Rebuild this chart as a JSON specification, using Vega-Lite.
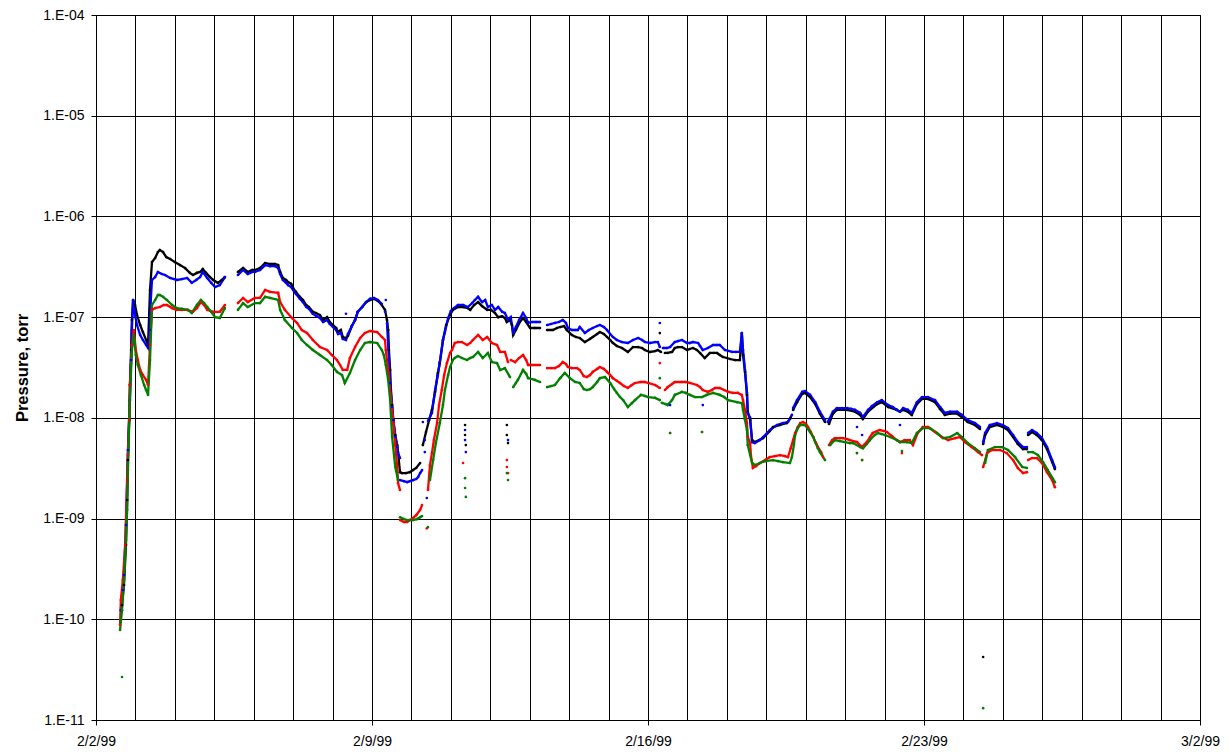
{
"$schema":"https://vega.github.io/schema/vega-lite/v6.json",
"width":1104,"height":705,
"autosize":{"type":"none"},
"padding":{"left":96,"top":15,"right":28,"bottom":35},
"background":"white",
"config":{"view":{"stroke":"#000","strokeWidth":1},"font":"Liberation Sans"},
"data":{"values":[
{"s":"k","g":"k1","d":0.66,"p":1.38e-10},{"s":"k","g":"k1","d":0.71,"p":2.19e-10},{"s":"k","g":"k1","d":0.76,"p":5.46e-10},{"s":"k","g":"k1","d":0.79,"p":1.53e-9},{"s":"k","g":"k1","d":0.81,"p":3.81e-9},{"s":"k","g":"k1","d":0.84,"p":9.52e-9},{"s":"k","g":"k1","d":0.86,"p":2.12e-8},{"s":"k","g":"k1","d":0.89,"p":4.72e-8},{"s":"k","g":"k1","d":0.91,"p":9.37e-8},{"s":"k","g":"k1","d":0.94,"p":1.48e-7},{"s":"k","g":"k1","d":0.99,"p":1.32e-7},{"s":"k","g":"k1","d":1.04,"p":1.05e-7},{"s":"k","g":"k1","d":1.12,"p":8.35e-8},{"s":"k","g":"k1","d":1.19,"p":7.11e-8},{"s":"k","g":"k1","d":1.27,"p":5.93e-8},{"s":"k","g":"k1","d":1.32,"p":5.29e-8},
{"s":"k","g":"k1","d":1.37,"p":1.86e-7},{"s":"k","g":"k1","d":1.42,"p":3.52e-7},{"s":"k","g":"k1","d":1.50,"p":3.87e-7},{"s":"k","g":"k1","d":1.57,"p":4.43e-7},{"s":"k","g":"k1","d":1.62,"p":4.64e-7},{"s":"k","g":"k1","d":1.70,"p":4.43e-7},{"s":"k","g":"k1","d":1.78,"p":3.95e-7},{"s":"k","g":"k1","d":1.88,"p":3.78e-7},{"s":"k","g":"k1","d":2.00,"p":3.52e-7},{"s":"k","g":"k1","d":2.13,"p":3.29e-7},{"s":"k","g":"k1","d":2.26,"p":3.07e-7},{"s":"k","g":"k1","d":2.38,"p":2.75e-7},{"s":"k","g":"k1","d":2.46,"p":2.62e-7},{"s":"k","g":"k1","d":2.56,"p":2.75e-7},{"s":"k","g":"k1","d":2.64,"p":2.81e-7},{"s":"k","g":"k1","d":2.71,"p":3.00e-7},{"s":"k","g":"k1","d":2.79,"p":2.75e-7},{"s":"k","g":"k1","d":2.89,"p":2.50e-7},{"s":"k","g":"k1","d":2.97,"p":2.34e-7},{"s":"k","g":"k1","d":3.09,"p":2.19e-7},{"s":"k","g":"k1","d":3.19,"p":2.34e-7},{"s":"k","g":"k1","d":3.27,"p":2.50e-7},
{"s":"k","g":"k3","d":3.60,"p":2.81e-7},{"s":"k","g":"k3","d":3.73,"p":3.07e-7},{"s":"k","g":"k3","d":3.85,"p":2.81e-7},{"s":"k","g":"k3","d":3.96,"p":2.94e-7},{"s":"k","g":"k3","d":4.03,"p":2.94e-7},{"s":"k","g":"k3","d":4.16,"p":3.07e-7},{"s":"k","g":"k3","d":4.29,"p":3.45e-7},{"s":"k","g":"k3","d":4.41,"p":3.37e-7},{"s":"k","g":"k3","d":4.54,"p":3.37e-7},{"s":"k","g":"k3","d":4.62,"p":3.29e-7},{"s":"k","g":"k3","d":4.67,"p":2.81e-7},{"s":"k","g":"k3","d":4.74,"p":2.45e-7},{"s":"k","g":"k3","d":4.82,"p":2.34e-7},{"s":"k","g":"k3","d":4.87,"p":2.23e-7},{"s":"k","g":"k3","d":4.95,"p":2.14e-7},{"s":"k","g":"k3","d":5.00,"p":1.94e-7},{"s":"k","g":"k3","d":5.07,"p":1.78e-7},{"s":"k","g":"k3","d":5.17,"p":1.59e-7},{"s":"k","g":"k3","d":5.25,"p":1.48e-7},{"s":"k","g":"k3","d":5.33,"p":1.32e-7},{"s":"k","g":"k3","d":5.40,"p":1.26e-7},{"s":"k","g":"k3","d":5.50,"p":1.13e-7},{"s":"k","g":"k3","d":5.58,"p":1.10e-7},{"s":"k","g":"k3","d":5.68,"p":1.05e-7},{"s":"k","g":"k3","d":5.76,"p":9.37e-8},{"s":"k","g":"k3","d":5.86,"p":1.00e-7},{"s":"k","g":"k3","d":5.93,"p":8.95e-8},{"s":"k","g":"k3","d":6.01,"p":8.35e-8},{"s":"k","g":"k3","d":6.09,"p":7.80e-8},{"s":"k","g":"k3","d":6.14,"p":7.11e-8},{"s":"k","g":"k3","d":6.21,"p":7.45e-8},{"s":"k","g":"k3","d":6.26,"p":6.35e-8},{"s":"k","g":"k3","d":6.34,"p":6.21e-8},{"s":"k","g":"k3","d":6.39,"p":6.50e-8},{"s":"k","g":"k3","d":6.49,"p":8.16e-8},{"s":"k","g":"k3","d":6.57,"p":9.37e-8},{"s":"k","g":"k3","d":6.64,"p":1.13e-7},{"s":"k","g":"k3","d":6.75,"p":1.26e-7},{"s":"k","g":"k3","d":6.85,"p":1.41e-7},{"s":"k","g":"k3","d":6.95,"p":1.48e-7},{"s":"k","g":"k3","d":7.05,"p":1.52e-7},{"s":"k","g":"k3","d":7.15,"p":1.45e-7},{"s":"k","g":"k3","d":7.23,"p":1.35e-7},{"s":"k","g":"k3","d":7.33,"p":1.18e-7},{"s":"k","g":"k3","d":7.38,"p":9.37e-8},{"s":"k","g":"k3","d":7.41,"p":7.45e-8},{"s":"k","g":"k3","d":7.43,"p":4.72e-8},{"s":"k","g":"k3","d":7.46,"p":2.99e-8},{"s":"k","g":"k3","d":7.48,"p":1.89e-8},{"s":"k","g":"k3","d":7.51,"p":1.34e-8},{"s":"k","g":"k3","d":7.54,"p":9.52e-9},{"s":"k","g":"k3","d":7.59,"p":6.75e-9},{"s":"k","g":"k3","d":7.64,"p":5.37e-9},{"s":"k","g":"k3","d":7.66,"p":4.57e-9},{"s":"k","g":"k3","d":7.71,"p":2.89e-9},{"s":"k","g":"k3","d":7.76,"p":2.83e-9},{"s":"k","g":"k3","d":7.86,"p":2.83e-9},{"s":"k","g":"k3","d":7.96,"p":2.89e-9},{"s":"k","g":"k3","d":8.04,"p":3.03e-9},{"s":"k","g":"k3","d":8.12,"p":3.18e-9},{"s":"k","g":"k3","d":8.22,"p":3.56e-9},
{"s":"k","g":"k4","d":8.29,"p":5.37e-9},{"s":"k","g":"k4","d":8.37,"p":7.23e-9},{"s":"k","g":"k4","d":8.45,"p":9.52e-9},{"s":"k","g":"k4","d":8.52,"p":1.20e-8},{"s":"k","g":"k4","d":8.60,"p":1.81e-8},{"s":"k","g":"k4","d":8.67,"p":2.79e-8},{"s":"k","g":"k4","d":8.72,"p":3.50e-8},{"s":"k","g":"k4","d":8.80,"p":5.93e-8},{"s":"k","g":"k4","d":8.88,"p":8.35e-8},{"s":"k","g":"k4","d":8.98,"p":1.05e-7},{"s":"k","g":"k4","d":9.05,"p":1.18e-7},{"s":"k","g":"k4","d":9.18,"p":1.26e-7},{"s":"k","g":"k4","d":9.31,"p":1.26e-7},{"s":"k","g":"k4","d":9.43,"p":1.23e-7},{"s":"k","g":"k4","d":9.49,"p":1.18e-7},{"s":"k","g":"k4","d":9.59,"p":1.32e-7},{"s":"k","g":"k4","d":9.69,"p":1.41e-7},{"s":"k","g":"k4","d":9.79,"p":1.29e-7},{"s":"k","g":"k4","d":9.92,"p":1.18e-7},{"s":"k","g":"k4","d":10.02,"p":1.18e-7},{"s":"k","g":"k4","d":10.12,"p":1.10e-7},{"s":"k","g":"k4","d":10.20,"p":1.00e-7},{"s":"k","g":"k4","d":10.30,"p":1.02e-7},{"s":"k","g":"k4","d":10.37,"p":9.81e-8},{"s":"k","g":"k4","d":10.42,"p":8.95e-8},{"s":"k","g":"k4","d":10.50,"p":9.37e-8},{"s":"k","g":"k4","d":10.55,"p":8.35e-8},{"s":"k","g":"k4","d":10.58,"p":6.65e-8},{"s":"k","g":"k4","d":10.65,"p":7.45e-8},{"s":"k","g":"k4","d":10.75,"p":8.95e-8},{"s":"k","g":"k4","d":10.83,"p":9.81e-8},{"s":"k","g":"k4","d":10.91,"p":8.95e-8},{"s":"k","g":"k4","d":11.01,"p":7.80e-8},{"s":"k","g":"k4","d":11.13,"p":7.80e-8},{"s":"k","g":"k4","d":11.26,"p":7.80e-8},
{"s":"k","g":"k5","d":11.44,"p":7.45e-8},{"s":"k","g":"k5","d":11.59,"p":7.45e-8},{"s":"k","g":"k5","d":11.69,"p":7.80e-8},{"s":"k","g":"k5","d":11.77,"p":7.98e-8},{"s":"k","g":"k5","d":11.87,"p":8.16e-8},{"s":"k","g":"k5","d":11.94,"p":7.45e-8},{"s":"k","g":"k5","d":12.07,"p":6.65e-8},{"s":"k","g":"k5","d":12.17,"p":6.35e-8},{"s":"k","g":"k5","d":12.27,"p":6.21e-8},{"s":"k","g":"k5","d":12.40,"p":5.66e-8},{"s":"k","g":"k5","d":12.53,"p":6.08e-8},{"s":"k","g":"k5","d":12.60,"p":6.35e-8},{"s":"k","g":"k5","d":12.71,"p":6.80e-8},{"s":"k","g":"k5","d":12.78,"p":7.11e-8},{"s":"k","g":"k5","d":12.88,"p":6.80e-8},{"s":"k","g":"k5","d":12.96,"p":6.35e-8},{"s":"k","g":"k5","d":13.04,"p":5.93e-8},{"s":"k","g":"k5","d":13.11,"p":5.54e-8},{"s":"k","g":"k5","d":13.21,"p":5.17e-8},{"s":"k","g":"k5","d":13.34,"p":4.94e-8},{"s":"k","g":"k5","d":13.49,"p":4.51e-8},{"s":"k","g":"k5","d":13.62,"p":5.05e-8},{"s":"k","g":"k5","d":13.75,"p":5.05e-8},{"s":"k","g":"k5","d":13.85,"p":4.94e-8},{"s":"k","g":"k5","d":13.92,"p":4.72e-8},{"s":"k","g":"k5","d":14.05,"p":4.51e-8},{"s":"k","g":"k5","d":14.18,"p":4.61e-8},{"s":"k","g":"k5","d":14.25,"p":4.72e-8},{"s":"k","g":"k5","d":14.33,"p":4.51e-8},
{"s":"k","g":"k6","d":14.43,"p":4.41e-8},{"s":"k","g":"k6","d":14.50,"p":4.41e-8},{"s":"k","g":"k6","d":14.61,"p":4.51e-8},{"s":"k","g":"k6","d":14.68,"p":4.94e-8},{"s":"k","g":"k6","d":14.76,"p":5.05e-8},{"s":"k","g":"k6","d":14.86,"p":5.05e-8},{"s":"k","g":"k6","d":14.99,"p":4.72e-8},{"s":"k","g":"k6","d":15.06,"p":4.83e-8},{"s":"k","g":"k6","d":15.14,"p":4.94e-8},{"s":"k","g":"k6","d":15.24,"p":4.72e-8},{"s":"k","g":"k6","d":15.32,"p":4.41e-8},{"s":"k","g":"k6","d":15.44,"p":3.93e-8},{"s":"k","g":"k6","d":15.57,"p":4.41e-8},{"s":"k","g":"k6","d":15.67,"p":4.41e-8},{"s":"k","g":"k6","d":15.75,"p":4.41e-8},{"s":"k","g":"k6","d":15.82,"p":4.21e-8},{"s":"k","g":"k6","d":15.90,"p":4.02e-8},{"s":"k","g":"k6","d":16.00,"p":3.93e-8},{"s":"k","g":"k6","d":16.08,"p":3.84e-8},{"s":"k","g":"k6","d":16.21,"p":3.75e-8},{"s":"k","g":"k6","d":16.33,"p":3.75e-8},{"s":"k","g":"k6","d":16.38,"p":6.95e-8},{"s":"k","g":"k6","d":16.41,"p":4.21e-8},{"s":"k","g":"k6","d":16.46,"p":2.86e-8},{"s":"k","g":"k6","d":16.51,"p":1.69e-8},{"s":"k","g":"k6","d":16.53,"p":1.15e-8},{"s":"k","g":"k6","d":16.59,"p":9.52e-9},{"s":"k","g":"k6","d":16.64,"p":6.02e-9},{"s":"k","g":"k6","d":16.71,"p":5.75e-9},{"s":"k","g":"k6","d":16.92,"p":6.30e-9},{"s":"k","g":"k6","d":17.09,"p":7.40e-9},{"s":"k","g":"k6","d":17.17,"p":8.11e-9},{"s":"k","g":"k6","d":17.35,"p":8.49e-9},{"s":"k","g":"k6","d":17.52,"p":8.87e-9},{"s":"k","g":"k6","d":17.62,"p":9.98e-9},
{"s":"k","g":"k7","d":17.68,"p":1.20e-8},{"s":"k","g":"k7","d":17.78,"p":1.43e-8},{"s":"k","g":"k7","d":17.91,"p":1.73e-8},{"s":"k","g":"k7","d":17.98,"p":1.77e-8},{"s":"k","g":"k7","d":18.11,"p":1.61e-8},{"s":"k","g":"k7","d":18.24,"p":1.37e-8},{"s":"k","g":"k7","d":18.36,"p":1.10e-8},{"s":"k","g":"k7","d":18.49,"p":9.09e-9},
{"s":"k","g":"k8","d":18.59,"p":8.69e-9},{"s":"k","g":"k8","d":18.69,"p":1.10e-8},{"s":"k","g":"k8","d":18.79,"p":1.20e-8},{"s":"k","g":"k8","d":19.05,"p":1.20e-8},{"s":"k","g":"k8","d":19.25,"p":1.15e-8},{"s":"k","g":"k8","d":19.38,"p":1.07e-8},{"s":"k","g":"k8","d":19.45,"p":9.75e-9},{"s":"k","g":"k8","d":19.58,"p":1.15e-8},{"s":"k","g":"k8","d":19.81,"p":1.37e-8},{"s":"k","g":"k8","d":19.93,"p":1.43e-8},{"s":"k","g":"k8","d":20.09,"p":1.28e-8},{"s":"k","g":"k8","d":20.31,"p":1.20e-8},{"s":"k","g":"k8","d":20.39,"p":1.15e-8},{"s":"k","g":"k8","d":20.47,"p":1.20e-8},{"s":"k","g":"k8","d":20.59,"p":1.15e-8},{"s":"k","g":"k8","d":20.69,"p":1.07e-8},{"s":"k","g":"k8","d":20.82,"p":1.37e-8},{"s":"k","g":"k8","d":20.95,"p":1.54e-8},{"s":"k","g":"k8","d":21.10,"p":1.54e-8},{"s":"k","g":"k8","d":21.28,"p":1.43e-8},{"s":"k","g":"k8","d":21.41,"p":1.22e-8},{"s":"k","g":"k8","d":21.53,"p":1.07e-8},{"s":"k","g":"k8","d":21.66,"p":1.10e-8},{"s":"k","g":"k8","d":21.84,"p":1.10e-8},{"s":"k","g":"k8","d":21.96,"p":1.02e-8},{"s":"k","g":"k8","d":22.11,"p":9.09e-9},{"s":"k","g":"k8","d":22.29,"p":8.49e-9},{"s":"k","g":"k8","d":22.42,"p":7.75e-9},
{"s":"k","g":"k9","d":22.50,"p":5.50e-9},{"s":"k","g":"k9","d":22.55,"p":6.75e-9},{"s":"k","g":"k9","d":22.67,"p":8.11e-9},{"s":"k","g":"k9","d":22.85,"p":8.49e-9},{"s":"k","g":"k9","d":23.00,"p":8.11e-9},{"s":"k","g":"k9","d":23.13,"p":7.57e-9},{"s":"k","g":"k9","d":23.26,"p":6.45e-9},{"s":"k","g":"k9","d":23.38,"p":5.50e-9},{"s":"k","g":"k9","d":23.51,"p":4.90e-9},{"s":"k","g":"k9","d":23.61,"p":4.90e-9},
{"s":"k","g":"k10","d":23.64,"p":6.75e-9},{"s":"k","g":"k10","d":23.74,"p":7.23e-9},{"s":"k","g":"k10","d":23.86,"p":6.75e-9},{"s":"k","g":"k10","d":23.99,"p":6.02e-9},{"s":"k","g":"k10","d":24.12,"p":4.90e-9},{"s":"k","g":"k10","d":24.25,"p":3.64e-9},{"s":"k","g":"k10","d":24.32,"p":3.10e-9},
{"s":"k","g":"x","d":9.36,"p":8.49e-9},{"s":"k","g":"x","d":9.36,"p":6.75e-9},{"s":"k","g":"x","d":9.38,"p":5.37e-9},{"s":"k","g":"x","d":10.42,"p":8.49e-9},{"s":"k","g":"x","d":10.42,"p":6.75e-9},{"s":"k","g":"x","d":10.45,"p":5.62e-9},{"s":"k","g":"x","d":14.30,"p":6.95e-8},{"s":"k","g":"x","d":22.50,"p":4.22e-11},
{"s":"b","g":"b1","d":0.63,"p":1.23e-10},{"s":"b","g":"b1","d":0.68,"p":1.95e-10},{"s":"b","g":"b1","d":0.71,"p":2.75e-10},{"s":"b","g":"b1","d":0.76,"p":8.63e-10},{"s":"b","g":"b1","d":0.79,"p":2.41e-9},{"s":"b","g":"b1","d":0.81,"p":4.79e-9},{"s":"b","g":"b1","d":0.86,"p":1.50e-8},{"s":"b","g":"b1","d":0.89,"p":3.75e-8},{"s":"b","g":"b1","d":0.91,"p":7.45e-8},{"s":"b","g":"b1","d":0.94,"p":1.48e-7},{"s":"b","g":"b1","d":0.99,"p":1.05e-7},{"s":"b","g":"b1","d":1.04,"p":8.35e-8},{"s":"b","g":"b1","d":1.12,"p":6.65e-8},{"s":"b","g":"b1","d":1.19,"p":5.93e-8},{"s":"b","g":"b1","d":1.27,"p":5.29e-8},{"s":"b","g":"b1","d":1.32,"p":4.94e-8},{"s":"b","g":"b1","d":1.37,"p":7.45e-8},{"s":"b","g":"b1","d":1.39,"p":1.48e-7},{"s":"b","g":"b1","d":1.42,"p":2.34e-7},{"s":"b","g":"b1","d":1.50,"p":2.50e-7},{"s":"b","g":"b1","d":1.57,"p":2.81e-7},{"s":"b","g":"b1","d":1.67,"p":2.68e-7},{"s":"b","g":"b1","d":1.75,"p":2.62e-7},{"s":"b","g":"b1","d":1.88,"p":2.45e-7},{"s":"b","g":"b1","d":2.05,"p":2.34e-7},{"s":"b","g":"b1","d":2.18,"p":2.39e-7},{"s":"b","g":"b1","d":2.31,"p":2.45e-7},{"s":"b","g":"b1","d":2.43,"p":2.19e-7},{"s":"b","g":"b1","d":2.54,"p":2.34e-7},{"s":"b","g":"b1","d":2.64,"p":2.50e-7},{"s":"b","g":"b1","d":2.71,"p":2.81e-7},{"s":"b","g":"b1","d":2.82,"p":2.45e-7},{"s":"b","g":"b1","d":2.92,"p":2.19e-7},{"s":"b","g":"b1","d":3.02,"p":1.99e-7},{"s":"b","g":"b1","d":3.14,"p":2.08e-7},{"s":"b","g":"b1","d":3.27,"p":2.50e-7},
{"s":"b","g":"b2","d":3.60,"p":2.62e-7},{"s":"b","g":"b2","d":3.73,"p":2.94e-7},{"s":"b","g":"b2","d":3.85,"p":2.68e-7},{"s":"b","g":"b2","d":3.96,"p":2.81e-7},{"s":"b","g":"b2","d":4.03,"p":2.81e-7},{"s":"b","g":"b2","d":4.16,"p":2.94e-7},{"s":"b","g":"b2","d":4.29,"p":3.29e-7},{"s":"b","g":"b2","d":4.41,"p":3.21e-7},{"s":"b","g":"b2","d":4.54,"p":3.21e-7},{"s":"b","g":"b2","d":4.62,"p":3.07e-7},{"s":"b","g":"b2","d":4.67,"p":2.68e-7},{"s":"b","g":"b2","d":4.74,"p":2.34e-7},{"s":"b","g":"b2","d":4.82,"p":2.19e-7},{"s":"b","g":"b2","d":4.87,"p":2.08e-7},{"s":"b","g":"b2","d":4.95,"p":1.99e-7},{"s":"b","g":"b2","d":5.00,"p":1.86e-7},{"s":"b","g":"b2","d":5.07,"p":1.70e-7},{"s":"b","g":"b2","d":5.17,"p":1.52e-7},{"s":"b","g":"b2","d":5.25,"p":1.41e-7},{"s":"b","g":"b2","d":5.33,"p":1.26e-7},{"s":"b","g":"b2","d":5.40,"p":1.21e-7},{"s":"b","g":"b2","d":5.50,"p":1.08e-7},{"s":"b","g":"b2","d":5.58,"p":1.03e-7},{"s":"b","g":"b2","d":5.68,"p":9.81e-8},{"s":"b","g":"b2","d":5.76,"p":8.95e-8},{"s":"b","g":"b2","d":5.86,"p":9.37e-8},{"s":"b","g":"b2","d":5.93,"p":8.55e-8},{"s":"b","g":"b2","d":6.01,"p":7.98e-8},{"s":"b","g":"b2","d":6.09,"p":7.45e-8},{"s":"b","g":"b2","d":6.14,"p":6.80e-8},{"s":"b","g":"b2","d":6.21,"p":6.96e-8},{"s":"b","g":"b2","d":6.26,"p":6.08e-8},{"s":"b","g":"b2","d":6.34,"p":5.93e-8},{"s":"b","g":"b2","d":6.39,"p":6.80e-8},{"s":"b","g":"b2","d":6.49,"p":8.16e-8},{"s":"b","g":"b2","d":6.57,"p":9.37e-8},{"s":"b","g":"b2","d":6.64,"p":1.13e-7},{"s":"b","g":"b2","d":6.75,"p":1.26e-7},{"s":"b","g":"b2","d":6.85,"p":1.41e-7},{"s":"b","g":"b2","d":6.95,"p":1.52e-7},{"s":"b","g":"b2","d":7.05,"p":1.55e-7},{"s":"b","g":"b2","d":7.15,"p":1.48e-7},{"s":"b","g":"b2","d":7.25,"p":1.35e-7},
{"s":"b","g":"b3","d":7.38,"p":8.75e-8},{"s":"b","g":"b3","d":7.43,"p":3.75e-8},{"s":"b","g":"b3","d":7.46,"p":2.22e-8},{"s":"b","g":"b3","d":7.51,"p":1.28e-8},{"s":"b","g":"b3","d":7.54,"p":9.52e-9},{"s":"b","g":"b3","d":7.59,"p":6.45e-9},{"s":"b","g":"b3","d":7.64,"p":5.13e-9},{"s":"b","g":"b3","d":7.66,"p":4.47e-9},{"s":"b","g":"b3","d":7.71,"p":3.99e-9},
{"s":"b","g":"b4","d":7.71,"p":2.41e-9},{"s":"b","g":"b4","d":7.81,"p":2.35e-9},{"s":"b","g":"b4","d":7.89,"p":2.30e-9},{"s":"b","g":"b4","d":7.96,"p":2.35e-9},{"s":"b","g":"b4","d":8.04,"p":2.41e-9},{"s":"b","g":"b4","d":8.12,"p":2.47e-9},{"s":"b","g":"b4","d":8.17,"p":2.58e-9},{"s":"b","g":"b4","d":8.22,"p":2.83e-9},{"s":"b","g":"b4","d":8.27,"p":3.03e-9},
{"s":"b","g":"b5","d":8.42,"p":9.30e-9},{"s":"b","g":"b5","d":8.52,"p":1.12e-8},{"s":"b","g":"b5","d":8.60,"p":1.89e-8},{"s":"b","g":"b5","d":8.67,"p":2.66e-8},{"s":"b","g":"b5","d":8.72,"p":3.58e-8},{"s":"b","g":"b5","d":8.80,"p":5.93e-8},{"s":"b","g":"b5","d":8.85,"p":7.11e-8},{"s":"b","g":"b5","d":8.93,"p":9.81e-8},{"s":"b","g":"b5","d":9.00,"p":1.15e-7},{"s":"b","g":"b5","d":9.08,"p":1.23e-7},{"s":"b","g":"b5","d":9.18,"p":1.32e-7},{"s":"b","g":"b5","d":9.31,"p":1.32e-7},{"s":"b","g":"b5","d":9.43,"p":1.26e-7},{"s":"b","g":"b5","d":9.54,"p":1.38e-7},{"s":"b","g":"b5","d":9.61,"p":1.48e-7},{"s":"b","g":"b5","d":9.69,"p":1.59e-7},{"s":"b","g":"b5","d":9.79,"p":1.41e-7},{"s":"b","g":"b5","d":9.87,"p":1.48e-7},{"s":"b","g":"b5","d":9.94,"p":1.26e-7},{"s":"b","g":"b5","d":10.04,"p":1.32e-7},{"s":"b","g":"b5","d":10.12,"p":1.18e-7},{"s":"b","g":"b5","d":10.20,"p":1.26e-7},{"s":"b","g":"b5","d":10.30,"p":1.13e-7},{"s":"b","g":"b5","d":10.37,"p":1.10e-7},{"s":"b","g":"b5","d":10.45,"p":9.37e-8},{"s":"b","g":"b5","d":10.52,"p":1.00e-7},{"s":"b","g":"b5","d":10.58,"p":6.96e-8},{"s":"b","g":"b5","d":10.65,"p":7.98e-8},{"s":"b","g":"b5","d":10.73,"p":9.37e-8},{"s":"b","g":"b5","d":10.83,"p":1.10e-7},{"s":"b","g":"b5","d":10.91,"p":9.81e-8},{"s":"b","g":"b5","d":10.96,"p":8.75e-8},{"s":"b","g":"b5","d":11.06,"p":8.95e-8},{"s":"b","g":"b5","d":11.16,"p":8.95e-8},{"s":"b","g":"b5","d":11.26,"p":8.95e-8},
{"s":"b","g":"b6","d":11.44,"p":8.35e-8},{"s":"b","g":"b6","d":11.54,"p":8.55e-8},{"s":"b","g":"b6","d":11.64,"p":8.75e-8},{"s":"b","g":"b6","d":11.74,"p":8.95e-8},{"s":"b","g":"b6","d":11.84,"p":9.37e-8},{"s":"b","g":"b6","d":11.92,"p":8.75e-8},{"s":"b","g":"b6","d":11.97,"p":7.80e-8},{"s":"b","g":"b6","d":12.07,"p":7.45e-8},{"s":"b","g":"b6","d":12.15,"p":7.45e-8},{"s":"b","g":"b6","d":12.22,"p":7.45e-8},{"s":"b","g":"b6","d":12.27,"p":7.98e-8},{"s":"b","g":"b6","d":12.40,"p":6.96e-8},{"s":"b","g":"b6","d":12.50,"p":7.45e-8},{"s":"b","g":"b6","d":12.60,"p":7.80e-8},{"s":"b","g":"b6","d":12.71,"p":8.16e-8},{"s":"b","g":"b6","d":12.78,"p":8.35e-8},{"s":"b","g":"b6","d":12.88,"p":7.98e-8},{"s":"b","g":"b6","d":12.96,"p":7.45e-8},{"s":"b","g":"b6","d":13.04,"p":6.80e-8},{"s":"b","g":"b6","d":13.11,"p":6.35e-8},{"s":"b","g":"b6","d":13.21,"p":5.93e-8},{"s":"b","g":"b6","d":13.34,"p":5.66e-8},{"s":"b","g":"b6","d":13.49,"p":5.54e-8},{"s":"b","g":"b6","d":13.62,"p":5.93e-8},{"s":"b","g":"b6","d":13.75,"p":6.21e-8},{"s":"b","g":"b6","d":13.85,"p":5.93e-8},{"s":"b","g":"b6","d":13.92,"p":5.66e-8},{"s":"b","g":"b6","d":14.05,"p":5.54e-8},{"s":"b","g":"b6","d":14.18,"p":5.66e-8},{"s":"b","g":"b6","d":14.25,"p":5.66e-8},{"s":"b","g":"b6","d":14.30,"p":5.05e-8},
{"s":"b","g":"b7","d":14.38,"p":4.94e-8},{"s":"b","g":"b7","d":14.48,"p":4.94e-8},{"s":"b","g":"b7","d":14.56,"p":5.05e-8},{"s":"b","g":"b7","d":14.68,"p":5.66e-8},{"s":"b","g":"b7","d":14.76,"p":5.79e-8},{"s":"b","g":"b7","d":14.86,"p":5.93e-8},{"s":"b","g":"b7","d":14.99,"p":5.54e-8},{"s":"b","g":"b7","d":15.06,"p":5.54e-8},{"s":"b","g":"b7","d":15.14,"p":5.66e-8},{"s":"b","g":"b7","d":15.27,"p":5.54e-8},{"s":"b","g":"b7","d":15.32,"p":5.17e-8},{"s":"b","g":"b7","d":15.39,"p":4.72e-8},{"s":"b","g":"b7","d":15.52,"p":4.94e-8},{"s":"b","g":"b7","d":15.65,"p":5.29e-8},{"s":"b","g":"b7","d":15.75,"p":5.29e-8},{"s":"b","g":"b7","d":15.82,"p":5.29e-8},{"s":"b","g":"b7","d":15.95,"p":4.72e-8},{"s":"b","g":"b7","d":16.13,"p":4.51e-8},{"s":"b","g":"b7","d":16.23,"p":4.51e-8},{"s":"b","g":"b7","d":16.33,"p":4.51e-8},{"s":"b","g":"b7","d":16.38,"p":6.96e-8},{"s":"b","g":"b7","d":16.41,"p":4.72e-8},{"s":"b","g":"b7","d":16.46,"p":2.99e-8},{"s":"b","g":"b7","d":16.51,"p":1.77e-8},{"s":"b","g":"b7","d":16.53,"p":1.12e-8},{"s":"b","g":"b7","d":16.59,"p":1.00e-8},{"s":"b","g":"b7","d":16.64,"p":5.75e-9},{"s":"b","g":"b7","d":16.71,"p":5.62e-9},{"s":"b","g":"b7","d":16.84,"p":6.02e-9},{"s":"b","g":"b7","d":16.92,"p":6.45e-9},{"s":"b","g":"b7","d":17.02,"p":7.07e-9},{"s":"b","g":"b7","d":17.09,"p":7.57e-9},{"s":"b","g":"b7","d":17.27,"p":8.49e-9},{"s":"b","g":"b7","d":17.42,"p":8.87e-9},{"s":"b","g":"b7","d":17.55,"p":9.09e-9},{"s":"b","g":"b7","d":17.65,"p":1.07e-8},
{"s":"b","g":"b8","d":17.68,"p":1.25e-8},{"s":"b","g":"b8","d":17.78,"p":1.50e-8},{"s":"b","g":"b8","d":17.91,"p":1.81e-8},{"s":"b","g":"b8","d":17.98,"p":1.85e-8},{"s":"b","g":"b8","d":18.11,"p":1.69e-8},{"s":"b","g":"b8","d":18.24,"p":1.43e-8},{"s":"b","g":"b8","d":18.36,"p":1.15e-8},{"s":"b","g":"b8","d":18.49,"p":9.52e-9},
{"s":"b","g":"b9","d":18.56,"p":9.09e-9},{"s":"b","g":"b9","d":18.69,"p":1.15e-8},{"s":"b","g":"b9","d":18.79,"p":1.25e-8},{"s":"b","g":"b9","d":18.92,"p":1.25e-8},{"s":"b","g":"b9","d":19.05,"p":1.25e-8},{"s":"b","g":"b9","d":19.15,"p":1.23e-8},{"s":"b","g":"b9","d":19.25,"p":1.20e-8},{"s":"b","g":"b9","d":19.38,"p":1.12e-8},{"s":"b","g":"b9","d":19.45,"p":1.02e-8},{"s":"b","g":"b9","d":19.58,"p":1.20e-8},{"s":"b","g":"b9","d":19.68,"p":1.31e-8},{"s":"b","g":"b9","d":19.81,"p":1.43e-8},{"s":"b","g":"b9","d":19.93,"p":1.50e-8},{"s":"b","g":"b9","d":20.09,"p":1.34e-8},{"s":"b","g":"b9","d":20.21,"p":1.28e-8},{"s":"b","g":"b9","d":20.31,"p":1.20e-8},{"s":"b","g":"b9","d":20.39,"p":1.15e-8},{"s":"b","g":"b9","d":20.47,"p":1.25e-8},{"s":"b","g":"b9","d":20.59,"p":1.20e-8},{"s":"b","g":"b9","d":20.69,"p":1.12e-8},{"s":"b","g":"b9","d":20.82,"p":1.43e-8},{"s":"b","g":"b9","d":20.95,"p":1.61e-8},{"s":"b","g":"b9","d":21.10,"p":1.61e-8},{"s":"b","g":"b9","d":21.28,"p":1.50e-8},{"s":"b","g":"b9","d":21.41,"p":1.28e-8},{"s":"b","g":"b9","d":21.53,"p":1.12e-8},{"s":"b","g":"b9","d":21.66,"p":1.15e-8},{"s":"b","g":"b9","d":21.84,"p":1.15e-8},{"s":"b","g":"b9","d":21.96,"p":1.07e-8},{"s":"b","g":"b9","d":22.11,"p":9.52e-9},{"s":"b","g":"b9","d":22.29,"p":8.87e-9},{"s":"b","g":"b9","d":22.42,"p":8.11e-9},
{"s":"b","g":"b10","d":22.50,"p":5.75e-9},{"s":"b","g":"b10","d":22.55,"p":7.07e-9},{"s":"b","g":"b10","d":22.67,"p":8.49e-9},{"s":"b","g":"b10","d":22.85,"p":8.87e-9},{"s":"b","g":"b10","d":23.00,"p":8.49e-9},{"s":"b","g":"b10","d":23.13,"p":7.91e-9},{"s":"b","g":"b10","d":23.26,"p":6.75e-9},{"s":"b","g":"b10","d":23.38,"p":5.75e-9},{"s":"b","g":"b10","d":23.51,"p":5.13e-9},{"s":"b","g":"b10","d":23.61,"p":5.13e-9},
{"s":"b","g":"b11","d":23.64,"p":7.07e-9},{"s":"b","g":"b11","d":23.74,"p":7.57e-9},{"s":"b","g":"b11","d":23.86,"p":7.07e-9},{"s":"b","g":"b11","d":23.99,"p":6.30e-9},{"s":"b","g":"b11","d":24.12,"p":5.13e-9},{"s":"b","g":"b11","d":24.25,"p":3.81e-9},{"s":"b","g":"b11","d":24.32,"p":3.24e-9},
{"s":"b","g":"x","d":7.35,"p":1.48e-7},{"s":"b","g":"x","d":7.33,"p":1.13e-7},{"s":"b","g":"x","d":6.34,"p":1.08e-7},{"s":"b","g":"x","d":8.29,"p":9.09e-9},{"s":"b","g":"x","d":8.34,"p":6.02e-9},{"s":"b","g":"x","d":8.34,"p":4.57e-9},{"s":"b","g":"x","d":8.39,"p":1.60e-9},{"s":"b","g":"x","d":9.36,"p":7.57e-9},{"s":"b","g":"x","d":9.36,"p":6.02e-9},{"s":"b","g":"x","d":9.38,"p":4.57e-9},{"s":"b","g":"x","d":10.45,"p":6.02e-9},{"s":"b","g":"x","d":14.30,"p":8.75e-8},{"s":"b","g":"x","d":14.56,"p":1.34e-8},{"s":"b","g":"x","d":15.39,"p":1.34e-8},{"s":"b","g":"x","d":19.30,"p":8.11e-9},{"s":"b","g":"x","d":19.43,"p":6.75e-9},{"s":"b","g":"x","d":20.39,"p":8.49e-9},
{"s":"r","g":"r1","d":0.61,"p":8.77e-11},{"s":"r","g":"r1","d":0.63,"p":1.55e-10},{"s":"r","g":"r1","d":0.68,"p":2.45e-10},{"s":"r","g":"r1","d":0.74,"p":5.46e-10},{"s":"r","g":"r1","d":0.79,"p":2.41e-9},{"s":"r","g":"r1","d":0.81,"p":4.27e-9},{"s":"r","g":"r1","d":0.84,"p":9.52e-9},{"s":"r","g":"r1","d":0.86,"p":2.12e-8},{"s":"r","g":"r1","d":0.91,"p":5.29e-8},{"s":"r","g":"r1","d":0.96,"p":7.45e-8},{"s":"r","g":"r1","d":1.01,"p":4.72e-8},{"s":"r","g":"r1","d":1.06,"p":3.75e-8},{"s":"r","g":"r1","d":1.12,"p":2.99e-8},{"s":"r","g":"r1","d":1.19,"p":2.66e-8},{"s":"r","g":"r1","d":1.27,"p":2.38e-8},{"s":"r","g":"r1","d":1.32,"p":2.12e-8},{"s":"r","g":"r1","d":1.37,"p":5.29e-8},{"s":"r","g":"r1","d":1.42,"p":1.18e-7},{"s":"r","g":"r1","d":1.50,"p":1.23e-7},{"s":"r","g":"r1","d":1.62,"p":1.26e-7},{"s":"r","g":"r1","d":1.72,"p":1.32e-7},{"s":"r","g":"r1","d":1.80,"p":1.32e-7},{"s":"r","g":"r1","d":1.93,"p":1.23e-7},{"s":"r","g":"r1","d":2.05,"p":1.18e-7},{"s":"r","g":"r1","d":2.18,"p":1.18e-7},{"s":"r","g":"r1","d":2.31,"p":1.18e-7},{"s":"r","g":"r1","d":2.46,"p":1.13e-7},{"s":"r","g":"r1","d":2.56,"p":1.23e-7},{"s":"r","g":"r1","d":2.66,"p":1.41e-7},{"s":"r","g":"r1","d":2.74,"p":1.32e-7},{"s":"r","g":"r1","d":2.82,"p":1.18e-7},{"s":"r","g":"r1","d":2.97,"p":1.13e-7},{"s":"r","g":"r1","d":3.14,"p":1.13e-7},{"s":"r","g":"r1","d":3.27,"p":1.32e-7},
{"s":"r","g":"r2","d":3.60,"p":1.38e-7},{"s":"r","g":"r2","d":3.73,"p":1.55e-7},{"s":"r","g":"r2","d":3.85,"p":1.41e-7},{"s":"r","g":"r2","d":4.03,"p":1.55e-7},{"s":"r","g":"r2","d":4.16,"p":1.55e-7},{"s":"r","g":"r2","d":4.29,"p":1.86e-7},{"s":"r","g":"r2","d":4.41,"p":1.78e-7},{"s":"r","g":"r2","d":4.62,"p":1.74e-7},{"s":"r","g":"r2","d":4.67,"p":1.41e-7},{"s":"r","g":"r2","d":4.79,"p":1.18e-7},{"s":"r","g":"r2","d":4.97,"p":9.81e-8},{"s":"r","g":"r2","d":5.10,"p":8.75e-8},{"s":"r","g":"r2","d":5.22,"p":7.45e-8},{"s":"r","g":"r2","d":5.35,"p":6.96e-8},{"s":"r","g":"r2","d":5.50,"p":5.93e-8},{"s":"r","g":"r2","d":5.68,"p":5.05e-8},{"s":"r","g":"r2","d":5.86,"p":4.72e-8},{"s":"r","g":"r2","d":5.98,"p":4.21e-8},{"s":"r","g":"r2","d":6.11,"p":3.75e-8},{"s":"r","g":"r2","d":6.19,"p":3.35e-8},{"s":"r","g":"r2","d":6.26,"p":2.99e-8},{"s":"r","g":"r2","d":6.37,"p":2.99e-8},{"s":"r","g":"r2","d":6.44,"p":3.93e-8},{"s":"r","g":"r2","d":6.57,"p":5.05e-8},{"s":"r","g":"r2","d":6.70,"p":6.21e-8},{"s":"r","g":"r2","d":6.82,"p":6.96e-8},{"s":"r","g":"r2","d":6.95,"p":7.28e-8},{"s":"r","g":"r2","d":7.13,"p":7.11e-8},{"s":"r","g":"r2","d":7.25,"p":6.35e-8},{"s":"r","g":"r2","d":7.33,"p":5.93e-8},{"s":"r","g":"r2","d":7.35,"p":4.72e-8},{"s":"r","g":"r2","d":7.41,"p":2.99e-8},{"s":"r","g":"r2","d":7.46,"p":1.89e-8},{"s":"r","g":"r2","d":7.51,"p":1.20e-8},{"s":"r","g":"r2","d":7.54,"p":8.87e-9},{"s":"r","g":"r2","d":7.59,"p":5.37e-9},{"s":"r","g":"r2","d":7.64,"p":3.25e-9},{"s":"r","g":"r2","d":7.66,"p":2.25e-9},{"s":"r","g":"r2","d":7.71,"p":1.92e-9},
{"s":"r","g":"r3","d":7.71,"p":9.67e-10},{"s":"r","g":"r3","d":7.81,"p":9.24e-10},{"s":"r","g":"r3","d":7.89,"p":9.24e-10},{"s":"r","g":"r3","d":7.96,"p":9.67e-10},{"s":"r","g":"r3","d":8.04,"p":1.01e-9},{"s":"r","g":"r3","d":8.12,"p":1.08e-9},{"s":"r","g":"r3","d":8.22,"p":1.22e-9},{"s":"r","g":"r3","d":8.27,"p":1.36e-9},
{"s":"r","g":"r4","d":8.42,"p":1.92e-9},{"s":"r","g":"r4","d":8.47,"p":3.40e-9},{"s":"r","g":"r4","d":8.52,"p":4.47e-9},{"s":"r","g":"r4","d":8.57,"p":6.02e-9},{"s":"r","g":"r4","d":8.65,"p":8.87e-9},{"s":"r","g":"r4","d":8.70,"p":1.34e-8},{"s":"r","g":"r4","d":8.77,"p":1.89e-8},{"s":"r","g":"r4","d":8.83,"p":2.66e-8},{"s":"r","g":"r4","d":8.90,"p":3.50e-8},{"s":"r","g":"r4","d":8.98,"p":4.41e-8},{"s":"r","g":"r4","d":9.03,"p":4.72e-8},{"s":"r","g":"r4","d":9.10,"p":5.54e-8},{"s":"r","g":"r4","d":9.18,"p":5.66e-8},{"s":"r","g":"r4","d":9.28,"p":5.66e-8},{"s":"r","g":"r4","d":9.41,"p":5.29e-8},{"s":"r","g":"r4","d":9.49,"p":5.54e-8},{"s":"r","g":"r4","d":9.56,"p":5.93e-8},{"s":"r","g":"r4","d":9.69,"p":6.65e-8},{"s":"r","g":"r4","d":9.81,"p":5.93e-8},{"s":"r","g":"r4","d":9.92,"p":6.35e-8},{"s":"r","g":"r4","d":10.04,"p":5.54e-8},{"s":"r","g":"r4","d":10.17,"p":5.29e-8},{"s":"r","g":"r4","d":10.25,"p":4.51e-8},{"s":"r","g":"r4","d":10.37,"p":4.51e-8},{"s":"r","g":"r4","d":10.45,"p":3.58e-8},
{"s":"r","g":"r5","d":10.52,"p":3.75e-8},{"s":"r","g":"r5","d":10.63,"p":3.58e-8},{"s":"r","g":"r5","d":10.73,"p":3.93e-8},{"s":"r","g":"r5","d":10.83,"p":4.21e-8},{"s":"r","g":"r5","d":10.91,"p":3.75e-8},{"s":"r","g":"r5","d":10.96,"p":3.35e-8},{"s":"r","g":"r5","d":11.08,"p":3.35e-8},{"s":"r","g":"r5","d":11.26,"p":3.35e-8},
{"s":"r","g":"r6","d":11.44,"p":3.12e-8},{"s":"r","g":"r6","d":11.54,"p":3.12e-8},{"s":"r","g":"r6","d":11.64,"p":3.12e-8},{"s":"r","g":"r6","d":11.74,"p":3.27e-8},{"s":"r","g":"r6","d":11.84,"p":3.58e-8},{"s":"r","g":"r6","d":11.92,"p":3.42e-8},{"s":"r","g":"r6","d":11.97,"p":3.20e-8},{"s":"r","g":"r6","d":12.07,"p":3.12e-8},{"s":"r","g":"r6","d":12.20,"p":3.12e-8},{"s":"r","g":"r6","d":12.27,"p":2.99e-8},{"s":"r","g":"r6","d":12.37,"p":2.60e-8},{"s":"r","g":"r6","d":12.45,"p":2.54e-8},{"s":"r","g":"r6","d":12.53,"p":2.66e-8},{"s":"r","g":"r6","d":12.60,"p":2.86e-8},{"s":"r","g":"r6","d":12.71,"p":3.06e-8},{"s":"r","g":"r6","d":12.78,"p":3.20e-8},{"s":"r","g":"r6","d":12.88,"p":3.06e-8},{"s":"r","g":"r6","d":12.96,"p":2.86e-8},{"s":"r","g":"r6","d":13.04,"p":2.66e-8},{"s":"r","g":"r6","d":13.11,"p":2.48e-8},{"s":"r","g":"r6","d":13.21,"p":2.33e-8},{"s":"r","g":"r6","d":13.29,"p":2.22e-8},{"s":"r","g":"r6","d":13.39,"p":2.07e-8},{"s":"r","g":"r6","d":13.49,"p":1.98e-8},{"s":"r","g":"r6","d":13.59,"p":2.12e-8},{"s":"r","g":"r6","d":13.67,"p":2.22e-8},{"s":"r","g":"r6","d":13.82,"p":2.27e-8},{"s":"r","g":"r6","d":13.92,"p":2.27e-8},{"s":"r","g":"r6","d":14.00,"p":2.22e-8},{"s":"r","g":"r6","d":14.18,"p":2.12e-8},{"s":"r","g":"r6","d":14.30,"p":1.98e-8},
{"s":"r","g":"r7","d":14.43,"p":1.89e-8},{"s":"r","g":"r7","d":14.50,"p":2.02e-8},{"s":"r","g":"r7","d":14.61,"p":2.17e-8},{"s":"r","g":"r7","d":14.68,"p":2.27e-8},{"s":"r","g":"r7","d":14.86,"p":2.27e-8},{"s":"r","g":"r7","d":14.96,"p":2.27e-8},{"s":"r","g":"r7","d":15.06,"p":2.22e-8},{"s":"r","g":"r7","d":15.24,"p":2.12e-8},{"s":"r","g":"r7","d":15.32,"p":2.02e-8},{"s":"r","g":"r7","d":15.39,"p":1.89e-8},{"s":"r","g":"r7","d":15.52,"p":1.81e-8},{"s":"r","g":"r7","d":15.62,"p":1.89e-8},{"s":"r","g":"r7","d":15.70,"p":1.98e-8},{"s":"r","g":"r7","d":15.82,"p":1.98e-8},{"s":"r","g":"r7","d":15.93,"p":1.89e-8},{"s":"r","g":"r7","d":16.03,"p":1.81e-8},{"s":"r","g":"r7","d":16.15,"p":1.77e-8},{"s":"r","g":"r7","d":16.28,"p":1.77e-8},{"s":"r","g":"r7","d":16.38,"p":1.69e-8},{"s":"r","g":"r7","d":16.41,"p":1.50e-8},{"s":"r","g":"r7","d":16.46,"p":1.20e-8},{"s":"r","g":"r7","d":16.51,"p":8.87e-9},{"s":"r","g":"r7","d":16.53,"p":6.45e-9},{"s":"r","g":"r7","d":16.59,"p":5.62e-9},{"s":"r","g":"r7","d":16.61,"p":4.27e-9},{"s":"r","g":"r7","d":16.66,"p":3.18e-9},{"s":"r","g":"r7","d":16.74,"p":3.32e-9},{"s":"r","g":"r7","d":16.84,"p":3.56e-9},{"s":"r","g":"r7","d":16.97,"p":3.81e-9},{"s":"r","g":"r7","d":17.09,"p":4.08e-9},{"s":"r","g":"r7","d":17.22,"p":4.17e-9},{"s":"r","g":"r7","d":17.35,"p":4.27e-9},{"s":"r","g":"r7","d":17.47,"p":4.17e-9},{"s":"r","g":"r7","d":17.55,"p":4.08e-9},{"s":"r","g":"r7","d":17.62,"p":4.99e-9},{"s":"r","g":"r7","d":17.68,"p":6.02e-9},{"s":"r","g":"r7","d":17.73,"p":7.07e-9},{"s":"r","g":"r7","d":17.80,"p":8.11e-9},{"s":"r","g":"r7","d":17.86,"p":8.87e-9},{"s":"r","g":"r7","d":17.93,"p":9.09e-9},{"s":"r","g":"r7","d":18.01,"p":8.69e-9},{"s":"r","g":"r7","d":18.06,"p":8.11e-9},{"s":"r","g":"r7","d":18.13,"p":7.23e-9},{"s":"r","g":"r7","d":18.19,"p":6.45e-9},{"s":"r","g":"r7","d":18.26,"p":5.62e-9},{"s":"r","g":"r7","d":18.31,"p":5.13e-9},{"s":"r","g":"r7","d":18.39,"p":4.57e-9},{"s":"r","g":"r7","d":18.44,"p":4.08e-9},
{"s":"r","g":"r8","d":18.59,"p":5.37e-9},{"s":"r","g":"r8","d":18.67,"p":6.02e-9},{"s":"r","g":"r8","d":18.74,"p":6.30e-9},{"s":"r","g":"r8","d":18.87,"p":6.30e-9},{"s":"r","g":"r8","d":18.94,"p":6.30e-9},{"s":"r","g":"r8","d":19.05,"p":6.16e-9},{"s":"r","g":"r8","d":19.12,"p":6.02e-9},{"s":"r","g":"r8","d":19.30,"p":5.75e-9},{"s":"r","g":"r8","d":19.43,"p":5.13e-9},{"s":"r","g":"r8","d":19.50,"p":5.50e-9},{"s":"r","g":"r8","d":19.55,"p":5.75e-9},{"s":"r","g":"r8","d":19.63,"p":6.45e-9},{"s":"r","g":"r8","d":19.70,"p":7.07e-9},{"s":"r","g":"r8","d":19.81,"p":7.40e-9},{"s":"r","g":"r8","d":19.88,"p":7.57e-9},{"s":"r","g":"r8","d":19.99,"p":7.40e-9},{"s":"r","g":"r8","d":20.06,"p":7.23e-9},{"s":"r","g":"r8","d":20.19,"p":6.59e-9},{"s":"r","g":"r8","d":20.31,"p":6.02e-9},{"s":"r","g":"r8","d":20.39,"p":5.75e-9},{"s":"r","g":"r8","d":20.51,"p":6.02e-9},{"s":"r","g":"r8","d":20.64,"p":6.02e-9},{"s":"r","g":"r8","d":20.72,"p":5.37e-9},{"s":"r","g":"r8","d":20.84,"p":7.07e-9},{"s":"r","g":"r8","d":20.97,"p":8.11e-9},{"s":"r","g":"r8","d":21.10,"p":8.11e-9},{"s":"r","g":"r8","d":21.28,"p":7.23e-9},{"s":"r","g":"r8","d":21.45,"p":6.45e-9},{"s":"r","g":"r8","d":21.61,"p":6.02e-9},{"s":"r","g":"r8","d":21.79,"p":6.30e-9},{"s":"r","g":"r8","d":21.91,"p":6.45e-9},{"s":"r","g":"r8","d":22.04,"p":5.75e-9},{"s":"r","g":"r8","d":22.21,"p":5.13e-9},{"s":"r","g":"r8","d":22.37,"p":4.57e-9},{"s":"r","g":"r8","d":22.47,"p":4.27e-9},
{"s":"r","g":"r9","d":22.50,"p":3.25e-9},{"s":"r","g":"r9","d":22.60,"p":4.47e-9},{"s":"r","g":"r9","d":22.72,"p":4.79e-9},{"s":"r","g":"r9","d":22.93,"p":4.79e-9},{"s":"r","g":"r9","d":23.10,"p":4.47e-9},{"s":"r","g":"r9","d":23.26,"p":3.81e-9},{"s":"r","g":"r9","d":23.38,"p":3.18e-9},{"s":"r","g":"r9","d":23.51,"p":2.83e-9},{"s":"r","g":"r9","d":23.61,"p":2.89e-9},
{"s":"r","g":"r10","d":23.64,"p":3.81e-9},{"s":"r","g":"r10","d":23.74,"p":3.99e-9},{"s":"r","g":"r10","d":23.86,"p":3.99e-9},{"s":"r","g":"r10","d":23.99,"p":3.56e-9},{"s":"r","g":"r10","d":24.12,"p":2.89e-9},{"s":"r","g":"r10","d":24.25,"p":2.41e-9},{"s":"r","g":"r10","d":24.32,"p":2.05e-9},
{"s":"r","g":"x","d":9.31,"p":3.56e-9},{"s":"r","g":"x","d":10.42,"p":3.81e-9},{"s":"r","g":"x","d":10.42,"p":3.25e-9},{"s":"r","g":"x","d":10.45,"p":2.83e-9},{"s":"r","g":"x","d":14.30,"p":3.50e-8},{"s":"r","g":"x","d":14.56,"p":7.07e-9},{"s":"r","g":"x","d":15.37,"p":7.23e-9},{"s":"r","g":"x","d":19.30,"p":4.47e-9},{"s":"r","g":"x","d":19.43,"p":3.81e-9},{"s":"r","g":"x","d":20.44,"p":4.47e-9},{"s":"r","g":"x","d":8.39,"p":8.0e-10},
{"s":"g","g":"g1","d":0.61,"p":7.82e-11},{"s":"g","g":"g1","d":0.66,"p":1.23e-10},{"s":"g","g":"g1","d":0.71,"p":2.45e-10},{"s":"g","g":"g1","d":0.76,"p":6.12e-10},{"s":"g","g":"g1","d":0.79,"p":1.22e-9},{"s":"g","g":"g1","d":0.81,"p":3.03e-9},{"s":"g","g":"g1","d":0.86,"p":1.50e-8},{"s":"g","g":"g1","d":0.91,"p":4.72e-8},{"s":"g","g":"g1","d":0.96,"p":6.65e-8},{"s":"g","g":"g1","d":1.01,"p":4.21e-8},{"s":"g","g":"g1","d":1.06,"p":3.35e-8},{"s":"g","g":"g1","d":1.14,"p":2.66e-8},{"s":"g","g":"g1","d":1.22,"p":2.12e-8},{"s":"g","g":"g1","d":1.27,"p":1.89e-8},{"s":"g","g":"g1","d":1.32,"p":1.69e-8},{"s":"g","g":"g1","d":1.37,"p":3.75e-8},{"s":"g","g":"g1","d":1.42,"p":1.32e-7},{"s":"g","g":"g1","d":1.50,"p":1.48e-7},{"s":"g","g":"g1","d":1.57,"p":1.66e-7},{"s":"g","g":"g1","d":1.62,"p":1.66e-7},{"s":"g","g":"g1","d":1.70,"p":1.59e-7},{"s":"g","g":"g1","d":1.80,"p":1.48e-7},{"s":"g","g":"g1","d":1.93,"p":1.32e-7},{"s":"g","g":"g1","d":2.05,"p":1.23e-7},{"s":"g","g":"g1","d":2.18,"p":1.21e-7},{"s":"g","g":"g1","d":2.33,"p":1.18e-7},{"s":"g","g":"g1","d":2.43,"p":1.10e-7},{"s":"g","g":"g1","d":2.56,"p":1.32e-7},{"s":"g","g":"g1","d":2.66,"p":1.48e-7},{"s":"g","g":"g1","d":2.74,"p":1.38e-7},{"s":"g","g":"g1","d":2.82,"p":1.26e-7},{"s":"g","g":"g1","d":2.92,"p":1.13e-7},{"s":"g","g":"g1","d":3.02,"p":1.00e-7},{"s":"g","g":"g1","d":3.14,"p":9.81e-8},{"s":"g","g":"g1","d":3.27,"p":1.23e-7},
{"s":"g","g":"g2","d":3.60,"p":1.18e-7},{"s":"g","g":"g2","d":3.73,"p":1.38e-7},{"s":"g","g":"g2","d":3.85,"p":1.26e-7},{"s":"g","g":"g2","d":4.03,"p":1.38e-7},{"s":"g","g":"g2","d":4.16,"p":1.38e-7},{"s":"g","g":"g2","d":4.29,"p":1.59e-7},{"s":"g","g":"g2","d":4.41,"p":1.55e-7},{"s":"g","g":"g2","d":4.62,"p":1.48e-7},{"s":"g","g":"g2","d":4.67,"p":1.18e-7},{"s":"g","g":"g2","d":4.79,"p":9.37e-8},{"s":"g","g":"g2","d":4.97,"p":7.80e-8},{"s":"g","g":"g2","d":5.10,"p":6.96e-8},{"s":"g","g":"g2","d":5.22,"p":5.93e-8},{"s":"g","g":"g2","d":5.35,"p":5.29e-8},{"s":"g","g":"g2","d":5.50,"p":4.72e-8},{"s":"g","g":"g2","d":5.68,"p":4.21e-8},{"s":"g","g":"g2","d":5.86,"p":3.75e-8},{"s":"g","g":"g2","d":5.98,"p":3.35e-8},{"s":"g","g":"g2","d":6.11,"p":2.86e-8},{"s":"g","g":"g2","d":6.24,"p":2.66e-8},{"s":"g","g":"g2","d":6.31,"p":2.22e-8},{"s":"g","g":"g2","d":6.44,"p":2.79e-8},{"s":"g","g":"g2","d":6.57,"p":3.75e-8},{"s":"g","g":"g2","d":6.70,"p":4.72e-8},{"s":"g","g":"g2","d":6.82,"p":5.54e-8},{"s":"g","g":"g2","d":6.95,"p":5.66e-8},{"s":"g","g":"g2","d":7.13,"p":5.54e-8},{"s":"g","g":"g2","d":7.25,"p":4.72e-8},{"s":"g","g":"g2","d":7.30,"p":4.21e-8},{"s":"g","g":"g2","d":7.35,"p":3.35e-8},{"s":"g","g":"g2","d":7.41,"p":2.38e-8},{"s":"g","g":"g2","d":7.46,"p":1.50e-8},{"s":"g","g":"g2","d":7.51,"p":6.45e-9},{"s":"g","g":"g2","d":7.59,"p":3.25e-9},{"s":"g","g":"g2","d":7.66,"p":2.41e-9},
{"s":"g","g":"g3","d":7.71,"p":1.03e-9},{"s":"g","g":"g3","d":7.81,"p":9.88e-10},{"s":"g","g":"g3","d":7.89,"p":9.67e-10},{"s":"g","g":"g3","d":7.96,"p":9.67e-10},{"s":"g","g":"g3","d":8.04,"p":9.67e-10},{"s":"g","g":"g3","d":8.14,"p":9.88e-10},{"s":"g","g":"g3","d":8.22,"p":1.03e-9},{"s":"g","g":"g3","d":8.27,"p":1.06e-9},
{"s":"g","g":"g4","d":8.47,"p":2.41e-9},{"s":"g","g":"g4","d":8.55,"p":3.81e-9},{"s":"g","g":"g4","d":8.62,"p":5.62e-9},{"s":"g","g":"g4","d":8.72,"p":8.87e-9},{"s":"g","g":"g4","d":8.80,"p":1.34e-8},{"s":"g","g":"g4","d":8.85,"p":1.89e-8},{"s":"g","g":"g4","d":8.93,"p":2.66e-8},{"s":"g","g":"g4","d":8.98,"p":3.20e-8},{"s":"g","g":"g4","d":9.05,"p":3.75e-8},{"s":"g","g":"g4","d":9.10,"p":3.93e-8},{"s":"g","g":"g4","d":9.18,"p":4.11e-8},{"s":"g","g":"g4","d":9.28,"p":3.93e-8},{"s":"g","g":"g4","d":9.41,"p":3.75e-8},{"s":"g","g":"g4","d":9.49,"p":3.93e-8},{"s":"g","g":"g4","d":9.56,"p":4.02e-8},{"s":"g","g":"g4","d":9.69,"p":4.51e-8},{"s":"g","g":"g4","d":9.81,"p":3.93e-8},{"s":"g","g":"g4","d":9.94,"p":4.41e-8},{"s":"g","g":"g4","d":10.04,"p":3.58e-8},{"s":"g","g":"g4","d":10.17,"p":3.50e-8},{"s":"g","g":"g4","d":10.25,"p":2.99e-8},{"s":"g","g":"g4","d":10.37,"p":3.12e-8},{"s":"g","g":"g4","d":10.50,"p":2.54e-8},
{"s":"g","g":"g5","d":10.58,"p":2.02e-8},{"s":"g","g":"g5","d":10.65,"p":2.22e-8},{"s":"g","g":"g5","d":10.70,"p":2.38e-8},{"s":"g","g":"g5","d":10.83,"p":2.99e-8},{"s":"g","g":"g5","d":10.91,"p":2.73e-8},{"s":"g","g":"g5","d":10.96,"p":2.48e-8},{"s":"g","g":"g5","d":11.13,"p":2.38e-8},{"s":"g","g":"g5","d":11.26,"p":2.27e-8},
{"s":"g","g":"g6","d":11.44,"p":2.02e-8},{"s":"g","g":"g6","d":11.54,"p":2.07e-8},{"s":"g","g":"g6","d":11.64,"p":2.12e-8},{"s":"g","g":"g6","d":11.77,"p":2.48e-8},{"s":"g","g":"g6","d":11.89,"p":2.79e-8},{"s":"g","g":"g6","d":12.02,"p":2.48e-8},{"s":"g","g":"g6","d":12.15,"p":2.27e-8},{"s":"g","g":"g6","d":12.27,"p":2.22e-8},{"s":"g","g":"g6","d":12.37,"p":1.93e-8},{"s":"g","g":"g6","d":12.45,"p":1.89e-8},{"s":"g","g":"g6","d":12.53,"p":1.93e-8},{"s":"g","g":"g6","d":12.60,"p":2.02e-8},{"s":"g","g":"g6","d":12.71,"p":2.27e-8},{"s":"g","g":"g6","d":12.78,"p":2.48e-8},{"s":"g","g":"g6","d":12.91,"p":2.54e-8},{"s":"g","g":"g6","d":13.04,"p":2.22e-8},{"s":"g","g":"g6","d":13.14,"p":1.93e-8},{"s":"g","g":"g6","d":13.21,"p":1.77e-8},{"s":"g","g":"g6","d":13.29,"p":1.61e-8},{"s":"g","g":"g6","d":13.37,"p":1.50e-8},{"s":"g","g":"g6","d":13.49,"p":1.28e-8},{"s":"g","g":"g6","d":13.59,"p":1.40e-8},{"s":"g","g":"g6","d":13.67,"p":1.50e-8},{"s":"g","g":"g6","d":13.82,"p":1.69e-8},{"s":"g","g":"g6","d":13.92,"p":1.65e-8},{"s":"g","g":"g6","d":14.00,"p":1.61e-8},{"s":"g","g":"g6","d":14.18,"p":1.58e-8},{"s":"g","g":"g6","d":14.30,"p":1.50e-8},
{"s":"g","g":"g7","d":14.35,"p":1.41e-8},{"s":"g","g":"g7","d":14.45,"p":1.37e-8},{"s":"g","g":"g7","d":14.50,"p":1.34e-8},{"s":"g","g":"g7","d":14.61,"p":1.50e-8},{"s":"g","g":"g7","d":14.68,"p":1.69e-8},{"s":"g","g":"g7","d":14.86,"p":1.81e-8},{"s":"g","g":"g7","d":14.96,"p":1.77e-8},{"s":"g","g":"g7","d":15.06,"p":1.69e-8},{"s":"g","g":"g7","d":15.19,"p":1.61e-8},{"s":"g","g":"g7","d":15.37,"p":1.61e-8},{"s":"g","g":"g7","d":15.49,"p":1.69e-8},{"s":"g","g":"g7","d":15.65,"p":1.77e-8},{"s":"g","g":"g7","d":15.82,"p":1.69e-8},{"s":"g","g":"g7","d":15.93,"p":1.61e-8},{"s":"g","g":"g7","d":16.03,"p":1.50e-8},{"s":"g","g":"g7","d":16.26,"p":1.43e-8},{"s":"g","g":"g7","d":16.38,"p":1.40e-8},{"s":"g","g":"g7","d":16.41,"p":1.20e-8},{"s":"g","g":"g7","d":16.46,"p":9.52e-9},{"s":"g","g":"g7","d":16.51,"p":7.57e-9},{"s":"g","g":"g7","d":16.53,"p":5.37e-9},{"s":"g","g":"g7","d":16.59,"p":4.27e-9},{"s":"g","g":"g7","d":16.64,"p":3.56e-9},{"s":"g","g":"g7","d":16.71,"p":3.40e-9},{"s":"g","g":"g7","d":16.84,"p":3.56e-9},{"s":"g","g":"g7","d":16.97,"p":3.72e-9},{"s":"g","g":"g7","d":17.17,"p":3.81e-9},{"s":"g","g":"g7","d":17.30,"p":3.72e-9},{"s":"g","g":"g7","d":17.42,"p":3.64e-9},{"s":"g","g":"g7","d":17.60,"p":3.56e-9},{"s":"g","g":"g7","d":17.65,"p":4.08e-9},{"s":"g","g":"g7","d":17.70,"p":5.37e-9},{"s":"g","g":"g7","d":17.73,"p":6.75e-9},{"s":"g","g":"g7","d":17.80,"p":7.91e-9},{"s":"g","g":"g7","d":17.86,"p":8.49e-9},{"s":"g","g":"g7","d":17.98,"p":8.49e-9},{"s":"g","g":"g7","d":18.06,"p":7.75e-9},{"s":"g","g":"g7","d":18.11,"p":7.23e-9},{"s":"g","g":"g7","d":18.19,"p":6.45e-9},{"s":"g","g":"g7","d":18.24,"p":5.75e-9},{"s":"g","g":"g7","d":18.31,"p":4.99e-9},{"s":"g","g":"g7","d":18.36,"p":4.57e-9},{"s":"g","g":"g7","d":18.49,"p":3.81e-9},
{"s":"g","g":"g8","d":18.62,"p":5.37e-9},{"s":"g","g":"g8","d":18.74,"p":6.02e-9},{"s":"g","g":"g8","d":18.87,"p":5.88e-9},{"s":"g","g":"g8","d":19.00,"p":5.75e-9},{"s":"g","g":"g8","d":19.12,"p":5.62e-9},{"s":"g","g":"g8","d":19.20,"p":5.62e-9},{"s":"g","g":"g8","d":19.38,"p":5.13e-9},{"s":"g","g":"g8","d":19.45,"p":4.99e-9},{"s":"g","g":"g8","d":19.55,"p":5.50e-9},{"s":"g","g":"g8","d":19.63,"p":6.02e-9},{"s":"g","g":"g8","d":19.75,"p":6.75e-9},{"s":"g","g":"g8","d":19.83,"p":7.07e-9},{"s":"g","g":"g8","d":19.93,"p":6.91e-9},{"s":"g","g":"g8","d":20.01,"p":6.75e-9},{"s":"g","g":"g8","d":20.14,"p":6.45e-9},{"s":"g","g":"g8","d":20.31,"p":6.02e-9},{"s":"g","g":"g8","d":20.39,"p":5.75e-9},{"s":"g","g":"g8","d":20.56,"p":5.75e-9},{"s":"g","g":"g8","d":20.69,"p":5.62e-9},{"s":"g","g":"g8","d":20.82,"p":7.07e-9},{"s":"g","g":"g8","d":20.97,"p":7.91e-9},{"s":"g","g":"g8","d":21.15,"p":7.91e-9},{"s":"g","g":"g8","d":21.33,"p":7.07e-9},{"s":"g","g":"g8","d":21.48,"p":6.30e-9},{"s":"g","g":"g8","d":21.66,"p":6.45e-9},{"s":"g","g":"g8","d":21.84,"p":7.07e-9},{"s":"g","g":"g8","d":21.96,"p":6.45e-9},{"s":"g","g":"g8","d":22.11,"p":5.62e-9},{"s":"g","g":"g8","d":22.29,"p":4.99e-9},{"s":"g","g":"g8","d":22.42,"p":4.57e-9},
{"s":"g","g":"g9","d":22.55,"p":3.56e-9},{"s":"g","g":"g9","d":22.62,"p":4.79e-9},{"s":"g","g":"g9","d":22.80,"p":5.13e-9},{"s":"g","g":"g9","d":22.98,"p":5.13e-9},{"s":"g","g":"g9","d":23.13,"p":4.79e-9},{"s":"g","g":"g9","d":23.31,"p":4.08e-9},{"s":"g","g":"g9","d":23.49,"p":3.25e-9},{"s":"g","g":"g9","d":23.61,"p":3.18e-9},
{"s":"g","g":"g10","d":23.64,"p":4.57e-9},{"s":"g","g":"g10","d":23.76,"p":4.57e-9},{"s":"g","g":"g10","d":23.89,"p":4.27e-9},{"s":"g","g":"g10","d":24.02,"p":3.64e-9},{"s":"g","g":"g10","d":24.14,"p":3.03e-9},{"s":"g","g":"g10","d":24.27,"p":2.48e-9},{"s":"g","g":"g10","d":24.32,"p":2.30e-9},
{"s":"g","g":"x","d":0.66,"p":2.67e-11},{"s":"g","g":"x","d":9.36,"p":2.52e-9},{"s":"g","g":"x","d":9.36,"p":2.01e-9},{"s":"g","g":"x","d":9.38,"p":1.64e-9},{"s":"g","g":"x","d":10.42,"p":2.83e-9},{"s":"g","g":"x","d":10.45,"p":2.41e-9},{"s":"g","g":"x","d":14.30,"p":2.48e-8},{"s":"g","g":"x","d":14.56,"p":7.07e-9},{"s":"g","g":"x","d":15.37,"p":7.23e-9},{"s":"g","g":"x","d":19.30,"p":4.47e-9},{"s":"g","g":"x","d":19.43,"p":3.81e-9},{"s":"g","g":"x","d":20.44,"p":4.68e-9},{"s":"g","g":"x","d":22.50,"p":1.31e-11},{"s":"g","g":"x","d":8.42,"p":8.24e-10}
]},
"encoding":{
"x":{"field":"d","type":"quantitative","scale":{"domain":[0,28],"nice":false,"zero":false},
"axis":{"title":null,"values":[0,1,2,3,4,5,6,7,8,9,10,11,12,13,14,15,16,17,18,19,20,21,22,23,24,25,26,27,28],
"grid":true,"gridColor":"#000","gridOpacity":1,"gridWidth":1,
"labelExpr":"datum.value % 7 == 0 ? (datum.value == 28 ? '3/2/99' : '2/' + (datum.value + 2) + '/99') : ''",
"tickColor":{"condition":{"test":"datum.value % 7 == 0","value":"#000"},"value":"transparent"},
"tickSize":5,"labelFontSize":14,"labelColor":"#000","labelPadding":9,"labelFlush":false,"labelOverlap":false,"labelFont":"Liberation Sans","domainColor":"#000"}},
"y":{"field":"p","type":"quantitative","scale":{"type":"log","domain":[1e-11,1e-4],"nice":false},
"axis":{"title":"Pressure, torr","titleFontSize":16.5,"titleFontWeight":"bold","titleFont":"Liberation Sans","titleColor":"#000","titlePadding":12,
"values":[1e-11,1e-10,1e-9,1e-8,1e-7,1e-6,1e-5,1e-4],
"labelExpr":"'1.E-' + (round(-log(datum.value)/LN10) < 10 ? '0' : '') + round(-log(datum.value)/LN10)",
"grid":true,"gridColor":"#000","gridOpacity":1,"gridWidth":1,"tickSize":5,"tickColor":"#000","labelFontSize":14,"labelColor":"#000","labelPadding":7,"labelFont":"Liberation Sans","domainColor":"#000","labelFlush":false,"labelOverlap":false}},
"color":{"field":"s","type":"nominal","scale":{"domain":["k","b","r","g"],"range":["#000000","#0000ff","#ff0000","#008000"]},"legend":null}
},
"layer":[
{"transform":[{"filter":"datum.g != 'x'"}],"mark":{"type":"line","strokeWidth":2.3,"interpolate":"linear"},"encoding":{"detail":{"field":"g","type":"nominal"}}},
{"mark":{"type":"point","filled":true,"size":7,"opacity":1}}
]
}
